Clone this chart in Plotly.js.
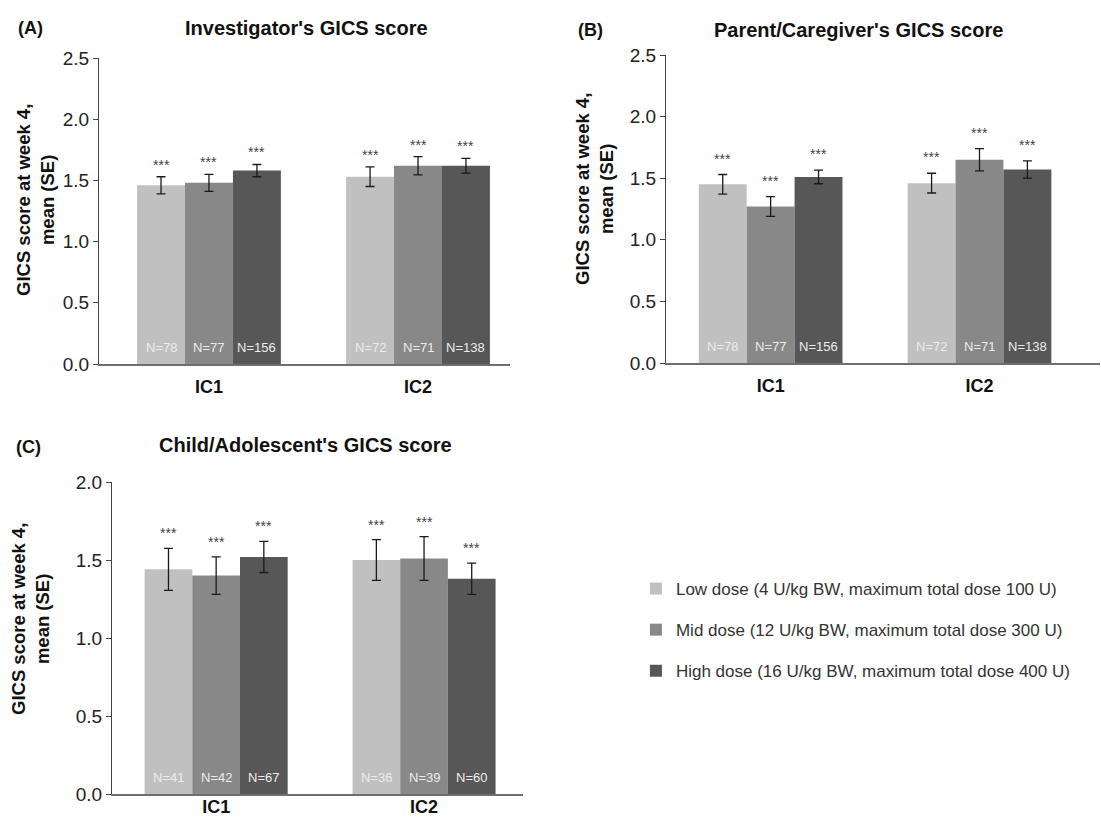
<!DOCTYPE html>
<html>
<head>
<meta charset="utf-8">
<script src="https://cdn.plot.ly/plotly-3.0.1.min.js"></script>
<style>html,body{margin:0;padding:0;background:#fff;}#chart{width:1101px;height:825px;}</style>
</head>
<body>
<div id="chart"></div>
<script>
// ---- Data ----
const categories = ['IC1', 'IC2'];
const seriesNames = [
  'Low dose (4 U/kg BW, maximum total dose 100 U)',
  'Mid dose (12 U/kg BW, maximum total dose 300 U)',
  'High dose (16 U/kg BW, maximum total dose 400 U)'
];
const seriesColors = ['#c0c0c0', '#888888', '#575757'];
const panelTitles = ["Investigator's GICS score", "Parent/Caregiver's GICS score", "Child/Adolescent's GICS score"];
const panelLabels = ['(A)', '(B)', '(C)'];
const yTitle = 'GICS score at week 4,<br>mean (SE)';

// (A) Investigator
const invLow = [1.46, 1.53];
const invMid = [1.48, 1.62];
const invHigh = [1.58, 1.62];
const invLowSE = [0.07, 0.08];
const invMidSE = [0.07, 0.075];
const invHighSE = [0.05, 0.06];
const invLowN = [78, 72];
const invMidN = [77, 71];
const invHighN = [156, 138];

// (B) Parent/Caregiver
const parLow = [1.45, 1.46];
const parMid = [1.27, 1.65];
const parHigh = [1.51, 1.57];
const parLowSE = [0.08, 0.08];
const parMidSE = [0.08, 0.09];
const parHighSE = [0.055, 0.07];
const parLowN = [78, 72];
const parMidN = [77, 71];
const parHighN = [156, 138];

// (C) Child/Adolescent
const chiLow = [1.44, 1.50];
const chiMid = [1.40, 1.51];
const chiHigh = [1.52, 1.38];
const chiLowSE = [0.135, 0.13];
const chiMidSE = [0.12, 0.14];
const chiHighSE = [0.10, 0.10];
const chiLowN = [41, 36];
const chiMidN = [42, 39];
const chiHighN = [67, 60];

const sigLabel = '***';

// ---- Build ----
const W = 1101, H = 825;
const bargap = 0.312;
const barW = (1 - bargap) / 3;
const FONT = 'Liberation Sans, Arial, sans-serif';

const panels = [
  {vals: [invLow, invMid, invHigh], se: [invLowSE, invMidSE, invHighSE], n: [invLowN, invMidN, invHighN],
   xa: 'x', ya: 'y', px: [99, 510], py: [58, 364], yr: [0, 2.5], xr: [-0.526, 1.44], starShift: 2,
   labStandoff: 5, titlePos: [306, 28], labelPos: [30, 28], yTitlePos: [35, 200]},
  {vals: [parLow, parMid, parHigh], se: [parLowSE, parMidSE, parHighSE], n: [parLowN, parMidN, parHighN],
   xa: 'x2', ya: 'y2', px: [666, 1100], py: [55, 363], yr: [0, 2.5], xr: [-0.501, 1.577], starShift: 6,
   labStandoff: 5, titlePos: [858, 30], labelPos: [590, 30], yTitlePos: [594, 189]},
  {vals: [chiLow, chiMid, chiHigh], se: [chiLowSE, chiMidSE, chiHighSE], n: [chiLowN, chiMidN, chiHighN],
   xa: 'x3', ya: 'y3', px: [112, 523], py: [482, 794], yr: [0, 2.0], xr: [-0.501, 1.476], starShift: 5,
   labStandoff: -5, titlePos: [305, 445], labelPos: [28, 447], yTitlePos: [30, 619]}
];

const data = [];
const annotations = [];
const layout = {
  width: W, height: H,
  margin: {l: 0, r: 0, t: 0, b: 0},
  paper_bgcolor: '#ffffff', plot_bgcolor: '#ffffff',
  font: {family: FONT, color: '#222'},
  barmode: 'group', bargap: bargap, bargroupgap: 0,
  showlegend: true,
  legend: {
    x: 0.5776, y: 1 - 571 / H, xanchor: 'left', yanchor: 'top',
    font: {family: FONT, size: 17, color: '#333'},
    tracegroupgap: 16, itemwidth: 30, bgcolor: 'rgba(0,0,0,0)'
  },
  annotations: annotations
};

panels.forEach((p, pi) => {
  const suffix = pi === 0 ? '' : String(pi + 1);
  for (let s = 0; s < 3; s++) {
    data.push({
      type: 'bar', x: categories, y: p.vals[s], name: seriesNames[s],
      xaxis: p.xa, yaxis: p.ya, legendgroup: 'g' + s, showlegend: pi === 0,
      marker: {color: seriesColors[s], line: {width: 0}},
      error_y: {type: 'data', array: p.se[s], visible: true, color: '#1a1a1a', thickness: 1.3, width: 4.5},
      hoverinfo: 'skip'
    });
    categories.forEach((c, ci) => {
      const xpos = ci + (s - 1) * barW;
      annotations.push({
        xref: p.xa, yref: p.ya, x: xpos, y: 0, yanchor: 'bottom', xanchor: 'center', yshift: 7,
        text: 'N=' + p.n[s][ci], showarrow: false,
        font: {family: FONT, size: 13, color: '#ececec'}
      });
      annotations.push({
        xref: p.xa, yref: p.ya, x: xpos, y: p.vals[s][ci] + p.se[s][ci], yanchor: 'bottom', xanchor: 'center',
        yshift: p.starShift, text: sigLabel, showarrow: false,
        font: {family: FONT, size: 14, color: '#444'}
      });
    });
  }
  layout['xaxis' + suffix] = {
    domain: [p.px[0] / W, p.px[1] / W], range: p.xr, anchor: 'y' + suffix,
    type: 'category', showgrid: false, zeroline: false,
    showline: true, linecolor: '#6e6e6e', linewidth: 2,
    ticks: '', ticklabelstandoff: p.labStandoff,
    tickfont: {family: FONT, size: 18, color: '#111', weight: 'bold'},
    fixedrange: true
  };
  layout['yaxis' + suffix] = {
    domain: [1 - p.py[1] / H, 1 - p.py[0] / H], range: p.yr, anchor: 'x' + suffix,
    dtick: 0.5, tickformat: '.1f', showgrid: false, zeroline: false,
    showline: true, linecolor: '#444', linewidth: 1,
    ticks: 'outside', ticklen: 5, tickcolor: '#444',
    tickfont: {family: FONT, size: 19, color: '#222'},
    fixedrange: true
  };
  annotations.push({
    xref: 'paper', yref: 'paper', x: p.yTitlePos[0] / W, y: 1 - p.yTitlePos[1] / H,
    xanchor: 'center', yanchor: 'middle', showarrow: false, textangle: -90, text: yTitle,
    font: {family: FONT, size: 18.5, color: '#111', weight: 'bold'}
  });
  annotations.push({
    xref: 'paper', yref: 'paper', x: p.titlePos[0] / W, y: 1 - p.titlePos[1] / H,
    xanchor: 'center', yanchor: 'middle', showarrow: false, text: panelTitles[pi],
    font: {family: FONT, size: 20, color: '#111', weight: 'bold'}
  });
  annotations.push({
    xref: 'paper', yref: 'paper', x: p.labelPos[0] / W, y: 1 - p.labelPos[1] / H,
    xanchor: 'center', yanchor: 'middle', showarrow: false, text: panelLabels[pi],
    font: {family: FONT, size: 18, color: '#111', weight: 'bold'}
  });
});

Plotly.newPlot('chart', data, layout, {displayModeBar: false, staticPlot: true});
</script>
</body>
</html>
